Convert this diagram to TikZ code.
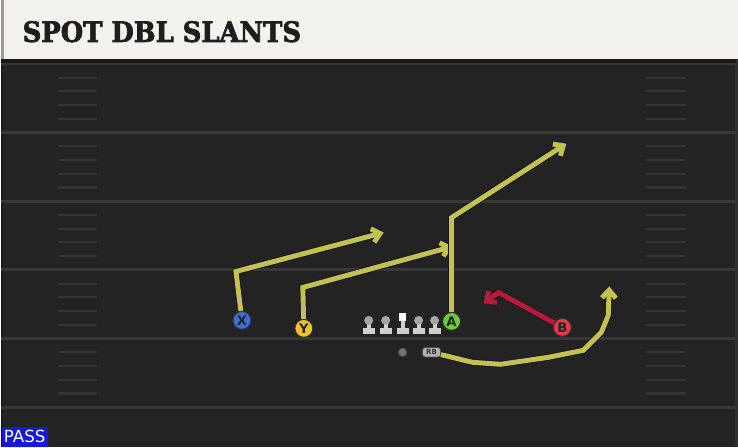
\documentclass[tikz,border=0pt]{standalone}
\usepackage{fontspec}
\setmainfont{DejaVu Sans}
\newfontfamily\titlefont[FakeBold=2.5]{DejaVu Serif}
\usepackage{tikz}
\usetikzlibrary{arrows.meta,calc,positioning,shapes}
\definecolor{turf}{HTML}{232323}
\definecolor{yardgray}{HTML}{383838}
\definecolor{hashgray}{HTML}{343434}
\definecolor{headercream}{HTML}{F4F2EC}
\definecolor{titleink}{HTML}{1E1E1E}
\definecolor{routeyellow}{HTML}{C3C152}
\definecolor{routered}{HTML}{B81A3C}
\definecolor{xblue}{HTML}{3D6FD8}
\definecolor{yyellow}{HTML}{F2C12E}
\definecolor{agreen}{HTML}{6CCB3E}
\definecolor{bred}{HTML}{E8394A}
\definecolor{linegray}{HTML}{CFCFCF}
\definecolor{passblue}{HTML}{1717E0}
\tikzset{%
	yardline/.style = {draw=yardgray, line width=1.6pt},
	hashmark/.style = {draw=hashgray, line width=1.2pt},
	player/.style   = {circle, draw=black!80, line width=0.6pt, minimum size=0.36cm, inner sep=0pt, text=black!85, font=\bfseries\fontsize{7.5}{8}\selectfont},
	route/.style    = {draw=routeyellow, line width=2.8pt, line join=miter, -{Straight Barb[length=4.5pt,width=8pt]}, preaction={draw=black!90, line width=3.8pt}},
	redroute/.style = {route, draw=routered},
	rbbox/.style    = {draw=black!70, fill=black!30, rounded corners=1.5pt, minimum width=0.36cm, minimum height=0.19cm, inner sep=0pt, font=\bfseries\fontsize{4}{4}\selectfont, text=black!80},
	qbdot/.style    = {circle, fill=black!55, draw=black!70, minimum size=0.17cm, inner sep=0pt},
	passbox/.style  = {fill=passblue, text=white, minimum width=0.92cm, minimum height=0.4cm, inner sep=0pt, font=\fontsize{9.5}{9.5}\selectfont},
}
\begin{document}
\begin{tikzpicture}[x=0.02cm,y=-0.02cm]
	\fill[turf] (0,0) rectangle (738,448);
	\fill[black!25!turf] (0,0) rectangle (2,448);
	\fill[black!12!yardgray] (735,60) rectangle (738,448);

	% field
	\foreach \yl in {0,...,5} \draw[yardline] (0,64+68.8*\yl) -- (736,64+68.8*\yl);
	\foreach \yl in {0,...,4} {
		\foreach \j in {1,...,4} {
			\draw[hashmark] (57,64+68.8*\yl+13.76*\j) -- (96,64+68.8*\yl+13.76*\j);
			\draw[hashmark] (646,64+68.8*\yl+13.76*\j) -- (686,64+68.8*\yl+13.76*\j);
		}
	}

	% header
	\fill[headercream] (0,0) rectangle (738,59);
	\fill[black!40] (0,0) rectangle (3,59);
	\fill[black!90] (0,59) rectangle (736,63);
	\node[anchor=base west, inner sep=0pt, text=titleink, font=\titlefont\bfseries\fontsize{16}{16}\selectfont] (title) at (21,42) {\scalebox{0.92}[1]{SPOT DBL SLANTS}};

	% offensive line
	\foreach \lx in {368,385,418,434} {
		\fill[linegray] (\lx-6,329) rectangle (\lx+6,335);
		\fill[linegray] (\lx-2,323) rectangle (\lx+2,330);
		\fill[black!35] (\lx,321) circle[radius=4.5];
	}
	\fill[linegray] (396,329) rectangle (408,335);
	\fill[linegray] (400,322) rectangle (404,330);
	\fill[white] (398.5,314) rectangle (405.5,322);

	% players
	\node[player, fill=xblue]   (X) at (241,321) {X};
	\node[player, fill=yyellow] (Y) at (303,329) {Y};
	\node[player, fill=agreen]  (A) at (451,322) {A};
	\node[player, fill=bred]    (B) at (562,328) {B};
	\node[rbbox] (RB) at (431,353) {RB};
	\node[qbdot] (QB) at (402,353) {};

	% routes
	\coordinate (xbreak) at (235,272);
	\coordinate (xend) at (383,233);
	\coordinate (ybreak) at (302,288);
	\coordinate (yend) at (452,247);
	\coordinate (abreak) at (451,218);
	\coordinate (aend) at (566,144);
	\coordinate (bbreak) at (498,293);
	\coordinate (bend) at (483,304);
	\coordinate (rbend) at (609,287);
	\draw[route] (X) -- (xbreak) -- (xend);
	\draw[route] (Y) -- (ybreak) -- (yend);
	\draw[route] (A) -- (abreak) -- (aend);
	\draw[redroute] (B) -- (bbreak) -- (bend);
	\draw[route] (RB) -- (472,363) -- (500,365) -- (548,358) -- (583,351) -- (601,333) -- (608,316) -- (rbend);

	\node[passbox, anchor=south west] (play) at (0,448) {PASS};
\end{tikzpicture}
\end{document}
